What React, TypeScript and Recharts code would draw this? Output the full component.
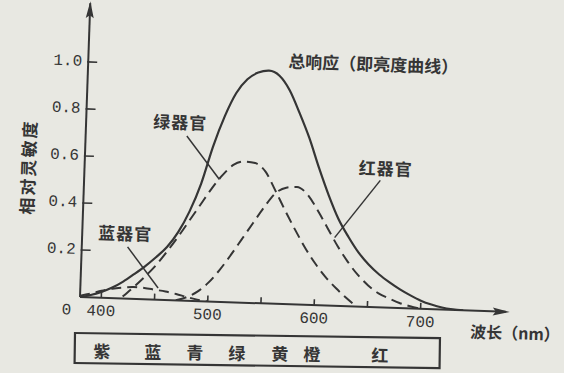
import React from "react";
import { LineChart, Line, XAxis, YAxis, ReferenceLine } from "recharts";

// wavelength grid (nm)
const wavelengths = [
  380, 390, 400, 410, 420, 430, 440, 450, 460, 470, 480, 490, 500, 510, 520,
  530, 540, 550, 560, 570, 580, 590, 600, 610, 620, 630, 640, 650, 660, 670,
  680, 690, 700, 710, 720, 730, 740,
];

// 总响应 (亮度曲线)
const totalResponse = [
  0, 0.01, 0.025, 0.045, 0.072, 0.105, 0.14, 0.18, 0.225, 0.29, 0.38, 0.5,
  0.66, 0.79, 0.89, 0.95, 0.98, 0.99, 0.97, 0.91, 0.815, 0.71, 0.585, 0.47,
  0.37, 0.295, 0.23, 0.18, 0.14, 0.108, 0.08, 0.056, 0.035, 0.02, 0.009, 0.003,
  0,
];

// 绿器官
const greenCone = [
  null, null, null, null, 0.008, 0.05, 0.095, 0.145, 0.205, 0.27, 0.34, 0.41,
  0.48, 0.54, 0.585, 0.6, 0.595, 0.56, 0.48, 0.395, 0.315, 0.24, 0.175, 0.12,
  0.075, 0.035, 0, null, null, null, null, null, null, null, null, null, null,
];

// 红器官
const redCone = [
  null, null, null, null, null, null, null, null, null, 0, 0.015, 0.04,
  0.08, 0.135, 0.2, 0.27, 0.34, 0.41, 0.47, 0.495, 0.5, 0.47, 0.405, 0.33,
  0.255, 0.19, 0.135, 0.092, 0.06, 0.04, 0.022, 0.01, 0, null, null, null, null,
];

// 蓝器官
const blueCone = [
  0.005, 0.016, 0.03, 0.04, 0.046, 0.05, 0.048, 0.042, 0.036, 0.027, 0.016,
  0.006, 0, null, null, null, null, null, null, null, null, null, null, null,
  null, null, null, null, null, null, null, null, null, null, null, null, null,
];

const xTicks = [400, 450, 500, 550, 600, 650, 700];
const xTickLabels = [400, 500, 600, 700];
const yTicks = [0, 0.2, 0.4, 0.6, 0.8, 1.0];
const spectrumNames = ["紫", "蓝", "青", "绿", "黄", "橙", "红"];
const spectrumX = [102, 153, 195, 237, 280, 312, 380];

const data = wavelengths.map((wl, i) => ({
  wl,
  total: totalResponse[i],
  green: greenCone[i],
  red: redCone[i],
  blue: blueCone[i],
}));

const INK = "#353535";
const BG = "#e8e8e2";
const CJK = "'Noto Sans CJK SC', sans-serif";
const MONO = "'Liberation Mono', 'DejaVu Sans Mono', monospace";

function XTick(props: any) {
  const { x, y, payload } = props;
  const v = payload.value;
  return (
    <g>
      <line x1={x} y1={y} x2={x} y2={y - 6} stroke={INK} strokeWidth={1.6} />
      {xTickLabels.includes(v) && (
        <text x={x} y={y + 14} textAnchor="middle" dominantBaseline="central"
          fontFamily={MONO} fontSize={16} fill={INK}>
          {v}
        </text>
      )}
    </g>
  );
}

function YTick(props: any) {
  const { x, y, payload } = props;
  const v = payload.value;
  if (v === 0) {
    return (
      <text x={x - 13} y={y + 14} textAnchor="middle" dominantBaseline="central"
        fontFamily={MONO} fontSize={16} fill={INK}>
        0
      </text>
    );
  }
  return (
    <g>
      <line x1={x - 1} y1={y} x2={x + 9} y2={y} stroke={INK} strokeWidth={1.6} />
      <text x={x - 6} y={y} textAnchor="end" dominantBaseline="central"
        fontFamily={MONO} fontSize={16} fill={INK}>
        {v.toFixed(1)}
      </text>
    </g>
  );
}

const leader = { stroke: INK, strokeWidth: 1.5 };

export default function App() {
  return (
    <div style={{ position: "absolute", left: 0, top: 0, width: 564, height: 373, background: BG, overflow: "hidden" }}>
      <div style={{ position: "absolute", left: 0, top: 0, width: 564, height: 373, transform: "rotate(2deg)", transformOrigin: "80px 297px" }}>
        <LineChart width={564} height={373} data={data}
          margin={{ top: 3, right: 58, bottom: 0, left: 0 }}>
          <XAxis dataKey="wl" type="number" domain={[380, 780]} ticks={xTicks}
            height={76} tickSize={0} tickMargin={0} tickLine={false}
            axisLine={{ stroke: INK, strokeWidth: 2 }} tick={<XTick />}
            allowDataOverflow />
          <YAxis type="number" domain={[0, 1.25]} ticks={yTicks} width={80}
            tickSize={0} tickMargin={0} tickLine={false}
            axisLine={{ stroke: INK, strokeWidth: 2 }} tick={<YTick />}
            allowDataOverflow />
          <ReferenceLine segment={[{ x: 475, y: 0.7 }, { x: 507, y: 0.52 }]} {...leader} />
          <ReferenceLine segment={[{ x: 658, y: 0.54 }, { x: 617, y: 0.29 }]} {...leader} />
          <ReferenceLine segment={[{ x: 423, y: 0.22 }, { x: 453, y: 0.05 }]} {...leader} />
          <Line dataKey="blue" type="monotone" stroke={INK} strokeWidth={2}
            strokeDasharray="10 6" dot={false} isAnimationActive={false} />
          <Line dataKey="red" type="monotone" stroke={INK} strokeWidth={2}
            strokeDasharray="11 6" dot={false} isAnimationActive={false} />
          <Line dataKey="green" type="monotone" stroke={INK} strokeWidth={2}
            strokeDasharray="11 6" dot={false} isAnimationActive={false} />
          <Line dataKey="total" type="monotone" stroke={INK} strokeWidth={2.2}
            dot={false} isAnimationActive={false} />
        </LineChart>
        <svg width={564} height={373} style={{ position: "absolute", left: 0, top: 0 }}>
          <polygon points="80,1 76,18 80,15 84,18" fill={INK} />
          <polygon points="510,297 493,293 496,297 493,301" fill={INK} />
          <g fontFamily={CJK} fontWeight={700} fill={INK}>
            <text x={280} y={53} dominantBaseline="central" fontSize={17}>总响应（即亮度曲线）</text>
            <text x={174} y={118} textAnchor="middle" dominantBaseline="central" fontSize={17} letterSpacing={1}>绿器官</text>
            <text x={381} y={157} textAnchor="middle" dominantBaseline="central" fontSize={17} letterSpacing={1}>红器官</text>
            <text x={123} y={231} textAnchor="middle" dominantBaseline="central" fontSize={17} letterSpacing={1}>蓝器官</text>
            <text x={0} y={0} transform="translate(23 169) rotate(-90)" textAnchor="middle"
              dominantBaseline="central" fontSize={17} letterSpacing={2}>相对灵敏度</text>
            <text x={516} y={317} textAnchor="middle" dominantBaseline="central" fontSize={16} fontWeight={600}>波长（nm）</text>
          </g>
        </svg>
      </div>
      <svg width={564} height={373} style={{ position: "absolute", left: 0, top: 0 }}>
        <g transform="rotate(0.8 75 333)">
          <rect x={75} y={333} width={365} height={30} fill="none" stroke={INK} strokeWidth={2.2} />
          {spectrumNames.map((name, i) => (
            <text key={name} x={spectrumX[i]} y={350} textAnchor="middle" dominantBaseline="central"
              fontFamily={CJK} fontWeight={700} fontSize={17} fill={INK}>
              {name}
            </text>
          ))}
        </g>
      </svg>
    </div>
  );
}
